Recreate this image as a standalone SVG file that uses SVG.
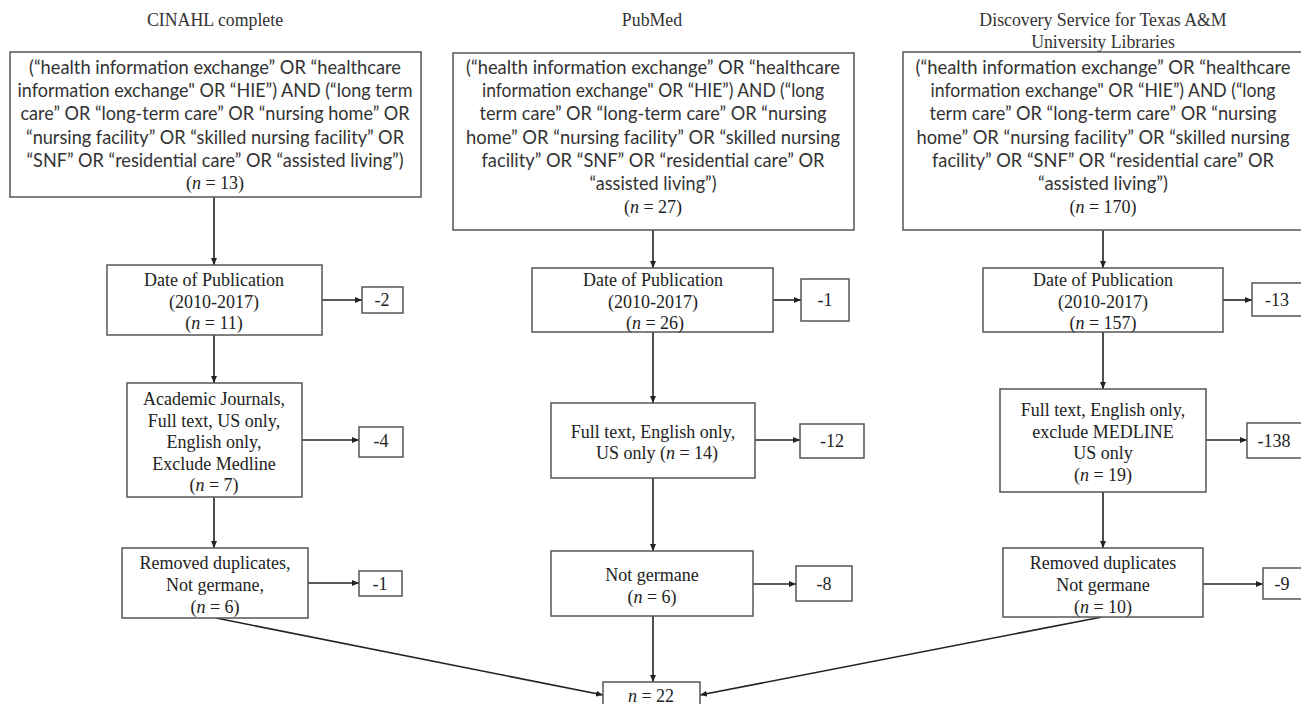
<svg xmlns="http://www.w3.org/2000/svg" width="1301" height="704" viewBox="0 0 1301 704">
<defs>
<marker id="ah" markerWidth="8" markerHeight="6" refX="7" refY="3" orient="auto" markerUnits="userSpaceOnUse">
<path d="M0,0 L7,3 L0,6 z" fill="#222"/>
</marker>
<style>
.box{fill:#fff;stroke:#555;stroke-width:1.5}
.ser{font-family:"Liberation Serif","Times New Roman",serif;font-size:18px;fill:#222;text-anchor:middle}
.san{font-family:Lato,"Liberation Sans",sans-serif;font-size:18.3px;fill:#333;text-anchor:middle}
.ttl{font-family:"Liberation Serif","Times New Roman",serif;font-size:17.8px;fill:#333;text-anchor:middle}
.ln{stroke:#222;stroke-width:1.6;fill:none;marker-end:url(#ah)}
.it{font-style:italic}
</style>
</defs>
<rect width="1301" height="704" fill="#fff"/>

<g id="titles">
<text class="ttl" x="215" y="26">CINAHL complete</text>
<text class="ttl" x="652" y="26">PubMed</text>
<text class="ttl" x="1103" y="26">Discovery Service for Texas A&amp;M</text>
<text class="ttl" x="1103" y="48">University Libraries</text>
</g>

<g id="connectors">
<line class="ln" x1="214" y1="197" x2="214" y2="265"/>
<line class="ln" x1="214" y1="335" x2="214" y2="383"/>
<line class="ln" x1="214" y1="497" x2="214" y2="548"/>
<line class="ln" x1="322" y1="300" x2="362" y2="300"/>
<line class="ln" x1="302" y1="440" x2="359" y2="440"/>
<line class="ln" x1="308" y1="583" x2="359" y2="583"/>
<line class="ln" x1="216" y1="618" x2="603" y2="695"/>

<line class="ln" x1="653" y1="230" x2="653" y2="268"/>
<line class="ln" x1="653" y1="332" x2="653" y2="403"/>
<line class="ln" x1="653" y1="478" x2="653" y2="551"/>
<line class="ln" x1="653" y1="616" x2="653" y2="682"/>
<line class="ln" x1="773" y1="300" x2="801" y2="300"/>
<line class="ln" x1="755" y1="440" x2="800" y2="440"/>
<line class="ln" x1="753" y1="584" x2="796" y2="584"/>

<line class="ln" x1="1103" y1="230" x2="1103" y2="268"/>
<line class="ln" x1="1103" y1="332" x2="1103" y2="389"/>
<line class="ln" x1="1103" y1="492" x2="1103" y2="548"/>
<line class="ln" x1="1223" y1="300" x2="1252" y2="300"/>
<line class="ln" x1="1206" y1="440" x2="1247" y2="440"/>
<line class="ln" x1="1203" y1="584" x2="1263" y2="584"/>
<line class="ln" x1="1102" y1="617" x2="700" y2="695"/>
</g>

<g id="cinahl-search">
<rect class="box" x="10" y="52" width="411" height="145"/>
<text class="san" x="215" y="74" textLength="372" lengthAdjust="spacingAndGlyphs">(“health information exchange” OR “healthcare</text>
<text class="san" x="215" y="97" textLength="395" lengthAdjust="spacingAndGlyphs">information exchange" OR “HIE”) AND (“long term</text>
<text class="san" x="215" y="120" textLength="389" lengthAdjust="spacingAndGlyphs">care” OR “long-term care” OR “nursing home” OR</text>
<text class="san" x="215" y="144" textLength="378" lengthAdjust="spacingAndGlyphs">“nursing facility” OR “skilled nursing facility” OR</text>
<text class="san" x="215" y="167" textLength="377" lengthAdjust="spacingAndGlyphs">“SNF” OR “residential care” OR “assisted living”)</text>
<text class="ser" x="215" y="189">(<tspan class="it">n</tspan> = 13)</text>
</g>
<g id="cinahl-date">
<rect class="box" x="107" y="265" width="215" height="70"/>
<text class="ser" x="214" y="286">Date of Publication</text>
<text class="ser" x="214" y="308">(2010-2017)</text>
<text class="ser" x="214" y="329">(<tspan class="it">n</tspan> = 11)</text>
</g>
<g id="cinahl-date-ex">
<rect class="box" x="362" y="287" width="41" height="26"/>
<text class="ser" x="382" y="306">-2</text>
</g>
<g id="cinahl-filter">
<rect class="box" x="127" y="383" width="175" height="114"/>
<text class="ser" x="214" y="405">Academic Journals,</text>
<text class="ser" x="214" y="427">Full text, US only,</text>
<text class="ser" x="214" y="448">English only,</text>
<text class="ser" x="214" y="470">Exclude Medline</text>
<text class="ser" x="214" y="491">(<tspan class="it">n</tspan> = 7)</text>
</g>
<g id="cinahl-filter-ex">
<rect class="box" x="359" y="427" width="44" height="30"/>
<text class="ser" x="381" y="447">-4</text>
</g>
<g id="cinahl-dup">
<rect class="box" x="122" y="548" width="186" height="70"/>
<text class="ser" x="215" y="569">Removed duplicates,</text>
<text class="ser" x="215" y="591">Not germane,</text>
<text class="ser" x="215" y="613">(<tspan class="it">n</tspan> = 6)</text>
</g>
<g id="cinahl-dup-ex">
<rect class="box" x="359" y="571" width="43" height="25"/>
<text class="ser" x="380" y="590">-1</text>
</g>

<g id="pubmed-search">
<rect class="box" x="453" y="53" width="401" height="177"/>
<text class="san" x="653" y="74" textLength="374" lengthAdjust="spacingAndGlyphs">(“health information exchange” OR “healthcare</text>
<text class="san" x="653" y="97" textLength="342" lengthAdjust="spacingAndGlyphs">information exchange" OR “HIE”) AND (“long</text>
<text class="san" x="653" y="120" textLength="347" lengthAdjust="spacingAndGlyphs">term care” OR “long-term care” OR “nursing</text>
<text class="san" x="653" y="144" textLength="374" lengthAdjust="spacingAndGlyphs">home” OR “nursing facility” OR “skilled nursing</text>
<text class="san" x="653" y="167" textLength="343" lengthAdjust="spacingAndGlyphs">facility” OR “SNF” OR “residential care” OR</text>
<text class="san" x="653" y="190" textLength="127" lengthAdjust="spacingAndGlyphs">“assisted living”)</text>
<text class="ser" x="653" y="213">(<tspan class="it">n</tspan> = 27)</text>
</g>
<g id="pubmed-date">
<rect class="box" x="532" y="268" width="241" height="64"/>
<text class="ser" x="653" y="286">Date of Publication</text>
<text class="ser" x="653" y="308">(2010-2017)</text>
<text class="ser" x="655" y="329">(<tspan class="it">n</tspan> = 26)</text>
</g>
<g id="pubmed-date-ex">
<rect class="box" x="801" y="279" width="48" height="42"/>
<text class="ser" x="825" y="306">-1</text>
</g>
<g id="pubmed-filter">
<rect class="box" x="551" y="403" width="204" height="75"/>
<text class="ser" x="653" y="438">Full text, English only,</text>
<text class="ser" x="657" y="459">US only (<tspan class="it">n</tspan> = 14)</text>
</g>
<g id="pubmed-filter-ex">
<rect class="box" x="800" y="424" width="64" height="34"/>
<text class="ser" x="832" y="447">-12</text>
</g>
<g id="pubmed-germane">
<rect class="box" x="551" y="551" width="202" height="65"/>
<text class="ser" x="652" y="581">Not germane</text>
<text class="ser" x="652" y="603">(<tspan class="it">n</tspan> = 6)</text>
</g>
<g id="pubmed-germane-ex">
<rect class="box" x="796" y="566" width="56" height="35"/>
<text class="ser" x="824" y="590">-8</text>
</g>

<g id="discovery-search">
<rect class="box" x="903" y="52" width="400" height="178"/>
<text class="san" x="1103" y="74" textLength="375" lengthAdjust="spacingAndGlyphs">(“health information exchange” OR “healthcare</text>
<text class="san" x="1103" y="97" textLength="345" lengthAdjust="spacingAndGlyphs">information exchange" OR “HIE”) AND (“long</text>
<text class="san" x="1103" y="120" textLength="347" lengthAdjust="spacingAndGlyphs">term care” OR “long-term care” OR “nursing</text>
<text class="san" x="1103" y="144" textLength="373" lengthAdjust="spacingAndGlyphs">home” OR “nursing facility” OR “skilled nursing</text>
<text class="san" x="1103" y="167" textLength="342" lengthAdjust="spacingAndGlyphs">facility” OR “SNF” OR “residential care” OR</text>
<text class="san" x="1103" y="190" textLength="130" lengthAdjust="spacingAndGlyphs">“assisted living”)</text>
<text class="ser" x="1103" y="213">(<tspan class="it">n</tspan> = 170)</text>
</g>
<g id="discovery-date">
<rect class="box" x="983" y="268" width="240" height="64"/>
<text class="ser" x="1103" y="286">Date of Publication</text>
<text class="ser" x="1103" y="308">(2010-2017)</text>
<text class="ser" x="1103" y="329">(<tspan class="it">n</tspan> = 157)</text>
</g>
<g id="discovery-date-ex">
<rect class="box" x="1252" y="283" width="52" height="33"/>
<text class="ser" x="1277" y="306">-13</text>
</g>
<g id="discovery-filter">
<rect class="box" x="1000" y="389" width="206" height="103"/>
<text class="ser" x="1103" y="416">Full text, English only,</text>
<text class="ser" x="1103" y="438">exclude MEDLINE</text>
<text class="ser" x="1103" y="459">US only</text>
<text class="ser" x="1103" y="481">(<tspan class="it">n</tspan> = 19)</text>
</g>
<g id="discovery-filter-ex">
<rect class="box" x="1247" y="423" width="58" height="35"/>
<text class="ser" x="1274" y="447">-138</text>
</g>
<g id="discovery-dup">
<rect class="box" x="1003" y="548" width="200" height="69"/>
<text class="ser" x="1103" y="569">Removed duplicates</text>
<text class="ser" x="1103" y="591">Not germane</text>
<text class="ser" x="1103" y="613">(<tspan class="it">n</tspan> = 10)</text>
</g>
<g id="discovery-dup-ex">
<rect class="box" x="1263" y="568" width="42" height="31"/>
<text class="ser" x="1282" y="590">-9</text>
</g>

<g id="total">
<rect class="box" x="603" y="682" width="97" height="26"/>
<text class="ser" x="651" y="702"><tspan class="it">n</tspan> = 22</text>
</g>
</svg>
